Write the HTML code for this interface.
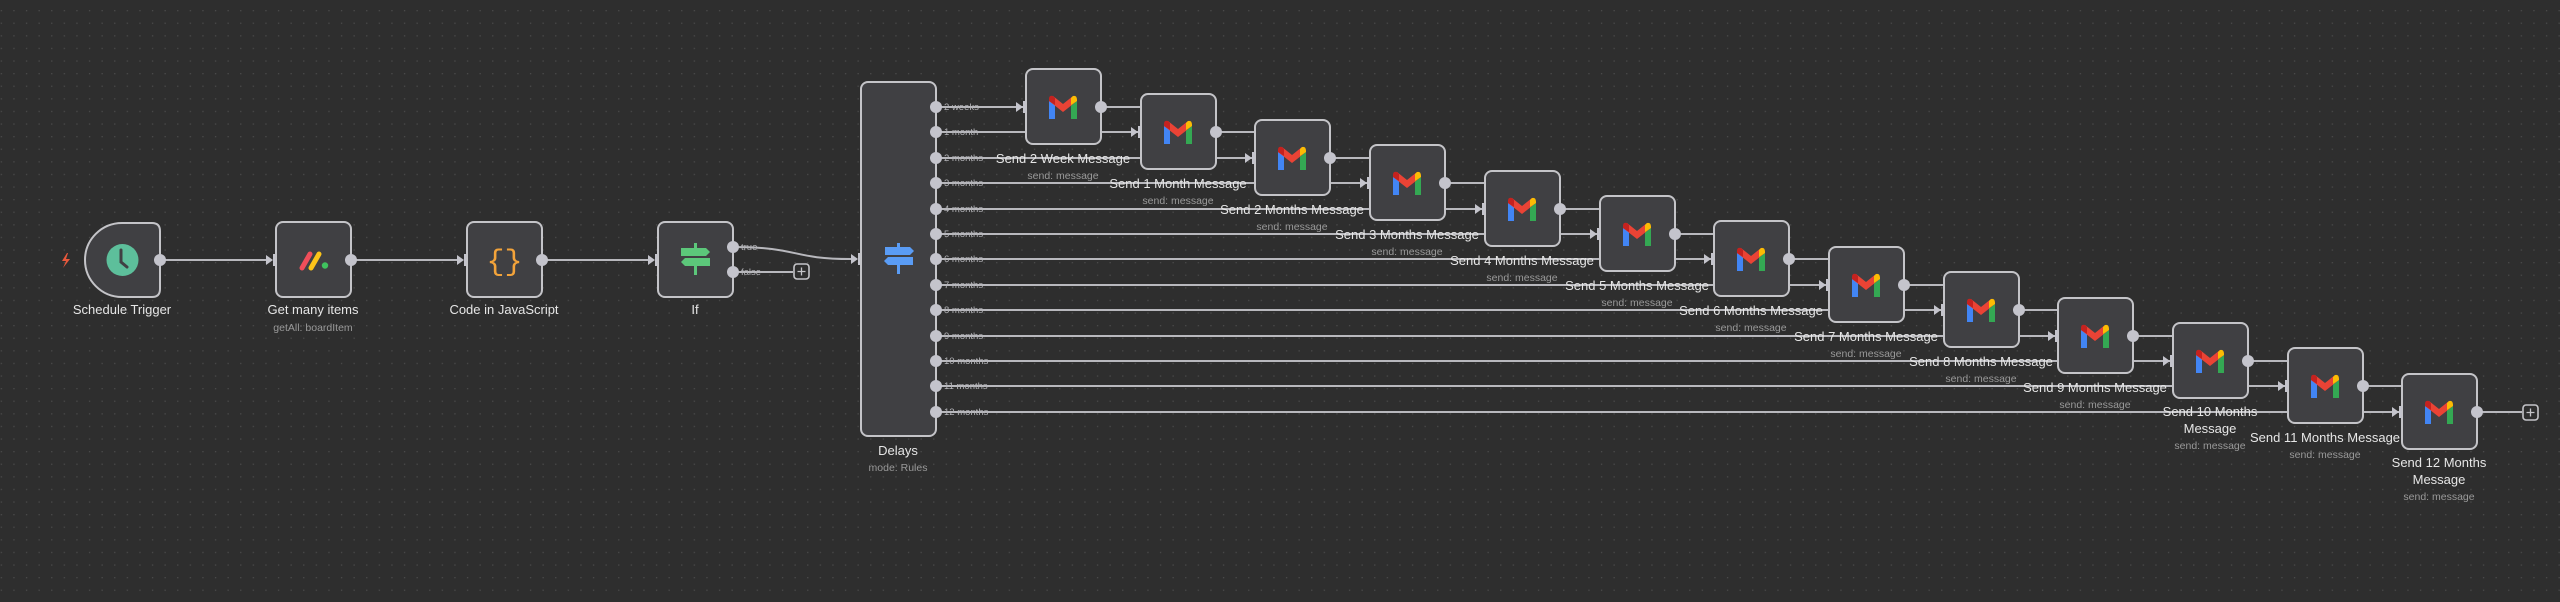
<!DOCTYPE html>
<html><head><meta charset="utf-8"><style>
html,body{margin:0;padding:0;background:#2e2e2e;}
svg{display:block;}
text{font-family:"Liberation Sans",sans-serif;}
.nm{fill:#e6e6e6;font-size:13px;text-anchor:middle;}
.sb{fill:#9a9a9a;font-size:10.5px;text-anchor:middle;}
.ol{fill:#b4b4b8;font-size:9.5px;}
.ln{stroke:#b8b8bd;stroke-width:2;fill:none;}
.nd{fill:#404043;stroke:#c4c4c8;stroke-width:2;}
.dot{fill:#c4c4cc;}
.ar{fill:#c4c4cc;}
</style></head><body>
<svg width="2560" height="602" viewBox="0 0 2560 602" xmlns="http://www.w3.org/2000/svg">
<defs>
<pattern id="grid" x="0.7" y="10" width="12.6" height="12.6" patternUnits="userSpaceOnUse">
<rect x="0" y="0" width="1.3" height="1.3" fill="#4a4a4a"/>
</pattern>
<symbol id="gm" viewBox="0 0 32 26">
<path d="M2 6 L2 24 L8 24 L8 10 Z" fill="#4285f4"/>
<path d="M24 10 L24 24 L30 24 L30 6 Z" fill="#34a853"/>
<path d="M2 6 L16 17 L30 6 L30 4 L26 1 L16 9 L6 1 L2 4 Z" fill="#ea4335"/>
<path d="M24 3 L26 1 Q30 0 30 5 L30 6 L24 10 Z" fill="#fbbc04"/>
<path d="M2 4 Q2 0 6 1 L8 3 L8 10 L2 6 Z" fill="#c5221f"/>
</symbol>
<symbol id="pl" viewBox="0 0 17 17">
<rect x="1" y="1" width="15" height="15" rx="3" fill="#2e2e2e" stroke="#c4c4c8" stroke-width="1.6"/>
<path d="M8.5 4.5 V12.5 M4.5 8.5 H12.5" stroke="#c4c4c8" stroke-width="1.3"/>
</symbol>
</defs>
<rect width="2560" height="602" fill="#2e2e2e"/>
<rect width="2560" height="602" fill="url(#grid)"/>

<!-- main chain lines -->
<path class="ln" d="M160 260 H266"/>
<path class="ln" d="M351 260 H457"/>
<path class="ln" d="M542 260 H648"/>
<path class="ln" d="M733 247 C800 247,790 259,851 259"/>
<path class="ln" d="M733 272 H793"/>
<use href="#pl" x="793" y="263" width="17" height="17"/>
<!-- input arrows -->
<g class="ar">
<path d="M266 255 L273 260 L266 265Z"/><rect x="273" y="254" width="3" height="12"/>
<path d="M457 255 L464 260 L457 265Z"/><rect x="464" y="254" width="3" height="12"/>
<path d="M648 255 L655 260 L648 265Z"/><rect x="655" y="254" width="3" height="12"/>
<path d="M851 254 L858 259 L851 264Z"/><rect x="858" y="253" width="3" height="12"/>
</g>

<!-- delay output lines -->
<g class="ln">
<path d="M936 107 H1141"/><path d="M936 132 H1255"/><path d="M936 158 H1370"/>
<path d="M936 183 H1485"/><path d="M936 209 H1600"/><path d="M936 234 H1714"/>
<path d="M936 259 H1829"/><path d="M936 285 H1944"/><path d="M936 310 H2058"/>
<path d="M936 336 H2173"/><path d="M936 361 H2288"/><path d="M936 386 H2402"/>
<path d="M936 412 H2522"/>
</g>
<use href="#pl" x="2522" y="404" width="17" height="17"/>

<!-- Schedule Trigger -->
<path class="nd" d="M122 223 H152 Q160 223 160 231 V289 Q160 297 152 297 H122 A37 37 0 0 1 85 260 A37 37 0 0 1 122 223 Z"/>
<circle cx="122.5" cy="260" r="16" fill="#5dbf9b"/>
<path d="M121 250 V262 L127 267" stroke="#404043" stroke-width="3" fill="none" stroke-linecap="round"/>
<path d="M67 253 L62 261 L66 261 L63 268 L70 259 L66 259 L68 253Z" fill="#e8583c"/>
<circle class="dot" cx="160" cy="260" r="6"/>
<text class="nm" x="122" y="314">Schedule Trigger</text>

<!-- Get many items -->
<rect class="nd" x="276" y="222" width="75" height="75" rx="7"/>
<path d="M302 268 L310 254" stroke="#f04e5a" stroke-width="5" stroke-linecap="round"/>
<path d="M311 268 L319 254" stroke="#fcc419" stroke-width="5" stroke-linecap="round"/>
<circle cx="325" cy="265.5" r="3.2" fill="#3fc25e"/>
<circle class="dot" cx="351" cy="260" r="6"/>
<text class="nm" x="313" y="314">Get many items</text>
<text class="sb" x="313" y="331">getAll: boardItem</text>

<!-- Code -->
<rect class="nd" x="467" y="222" width="75" height="75" rx="7"/>
<text x="504.5" y="270" fill="#f3a33a" font-size="30" text-anchor="middle" style="font-family:'Liberation Mono',monospace">{}</text>
<circle class="dot" cx="542" cy="260" r="6"/>
<text class="nm" x="504" y="314">Code in JavaScript</text>

<!-- If -->
<rect class="nd" x="658" y="222" width="75" height="75" rx="7"/>
<g fill="#5cc77a">
<rect x="694" y="243" width="3" height="5"/>
<path d="M681 248 H706 L710 252 L706 256 H681Z"/>
<path d="M685 258 H710 V266 H685 L681 262Z"/>
<rect x="694" y="266" width="3" height="9"/>
</g>
<circle class="dot" cx="733" cy="247" r="6"/><circle class="dot" cx="733" cy="272" r="6"/>
<text class="ol" x="741" y="250">true</text><text class="ol" x="741" y="275">false</text>
<text class="nm" x="695" y="314">If</text>

<!-- Delays -->
<rect class="nd" x="861" y="82" width="75" height="354" rx="7"/>
<g fill="#5a9cf5">
<rect x="897" y="243" width="3" height="5"/>
<path d="M885 247 H910 L914 251 L910 255 H885Z"/>
<path d="M888 257 H913 V265 H888 L884 261Z"/>
<rect x="897" y="265" width="3" height="9"/>
</g>
<g class="dot">
<circle cx="936" cy="107" r="6"/><circle cx="936" cy="132" r="6"/><circle cx="936" cy="158" r="6"/>
<circle cx="936" cy="183" r="6"/><circle cx="936" cy="209" r="6"/><circle cx="936" cy="234" r="6"/>
<circle cx="936" cy="259" r="6"/><circle cx="936" cy="285" r="6"/><circle cx="936" cy="310" r="6"/>
<circle cx="936" cy="336" r="6"/><circle cx="936" cy="361" r="6"/><circle cx="936" cy="386" r="6"/>
<circle cx="936" cy="412" r="6"/>
</g>
<g class="ol">
<text x="944" y="110">2 weeks</text><text x="944" y="135">1 month</text><text x="944" y="161">2 months</text>
<text x="944" y="186">3 months</text><text x="944" y="212">4 months</text><text x="944" y="237">5 months</text>
<text x="944" y="262">6 months</text><text x="944" y="288">7 months</text><text x="944" y="313">8 months</text>
<text x="944" y="339">9 months</text><text x="944" y="364">10 months</text><text x="944" y="389">11 months</text>
<text x="944" y="415">12 months</text>
</g>
<text class="nm" x="898" y="455">Delays</text>
<text class="sb" x="898" y="471">mode: Rules</text>

<!-- Gmail nodes -->
<g>
<rect class="nd" x="1026" y="69" width="75" height="75" rx="7"/><use href="#gm" x="1047" y="95" width="32" height="26"/>
<circle class="dot" cx="1101" cy="107" r="6"/><path class="ar" d="M1016 102 L1023 107 L1016 112Z"/><rect class="ar" x="1023" y="101" width="3" height="12"/>
<text class="nm" x="1063" y="163">Send 2 Week Message</text><text class="sb" x="1063" y="179">send: message</text>
</g>
<g>
<rect class="nd" x="1141" y="94" width="75" height="75" rx="7"/><use href="#gm" x="1162" y="120" width="32" height="26"/>
<circle class="dot" cx="1216" cy="132" r="6"/><path class="ar" d="M1131 127 L1138 132 L1131 137Z"/><rect class="ar" x="1138" y="126" width="3" height="12"/>
<text class="nm" x="1178" y="188">Send 1 Month Message</text><text class="sb" x="1178" y="204">send: message</text>
</g>
<g>
<rect class="nd" x="1255" y="120" width="75" height="75" rx="7"/><use href="#gm" x="1276" y="146" width="32" height="26"/>
<circle class="dot" cx="1330" cy="158" r="6"/><path class="ar" d="M1245 153 L1252 158 L1245 163Z"/><rect class="ar" x="1252" y="152" width="3" height="12"/>
<text class="nm" x="1292" y="214">Send 2 Months Message</text><text class="sb" x="1292" y="230">send: message</text>
</g>
<g>
<rect class="nd" x="1370" y="145" width="75" height="75" rx="7"/><use href="#gm" x="1391" y="171" width="32" height="26"/>
<circle class="dot" cx="1445" cy="183" r="6"/><path class="ar" d="M1360 178 L1367 183 L1360 188Z"/><rect class="ar" x="1367" y="177" width="3" height="12"/>
<text class="nm" x="1407" y="239">Send 3 Months Message</text><text class="sb" x="1407" y="255">send: message</text>
</g>
<g>
<rect class="nd" x="1485" y="171" width="75" height="75" rx="7"/><use href="#gm" x="1506" y="197" width="32" height="26"/>
<circle class="dot" cx="1560" cy="209" r="6"/><path class="ar" d="M1475 204 L1482 209 L1475 214Z"/><rect class="ar" x="1482" y="203" width="3" height="12"/>
<text class="nm" x="1522" y="265">Send 4 Months Message</text><text class="sb" x="1522" y="281">send: message</text>
</g>
<g>
<rect class="nd" x="1600" y="196" width="75" height="75" rx="7"/><use href="#gm" x="1621" y="222" width="32" height="26"/>
<circle class="dot" cx="1675" cy="234" r="6"/><path class="ar" d="M1590 229 L1597 234 L1590 239Z"/><rect class="ar" x="1597" y="228" width="3" height="12"/>
<text class="nm" x="1637" y="290">Send 5 Months Message</text><text class="sb" x="1637" y="306">send: message</text>
</g>
<g>
<rect class="nd" x="1714" y="221" width="75" height="75" rx="7"/><use href="#gm" x="1735" y="247" width="32" height="26"/>
<circle class="dot" cx="1789" cy="259" r="6"/><path class="ar" d="M1704 254 L1711 259 L1704 264Z"/><rect class="ar" x="1711" y="253" width="3" height="12"/>
<text class="nm" x="1751" y="315">Send 6 Months Message</text><text class="sb" x="1751" y="331">send: message</text>
</g>
<g>
<rect class="nd" x="1829" y="247" width="75" height="75" rx="7"/><use href="#gm" x="1850" y="273" width="32" height="26"/>
<circle class="dot" cx="1904" cy="285" r="6"/><path class="ar" d="M1819 280 L1826 285 L1819 290Z"/><rect class="ar" x="1826" y="279" width="3" height="12"/>
<text class="nm" x="1866" y="341">Send 7 Months Message</text><text class="sb" x="1866" y="357">send: message</text>
</g>
<g>
<rect class="nd" x="1944" y="272" width="75" height="75" rx="7"/><use href="#gm" x="1965" y="298" width="32" height="26"/>
<circle class="dot" cx="2019" cy="310" r="6"/><path class="ar" d="M1934 305 L1941 310 L1934 315Z"/><rect class="ar" x="1941" y="304" width="3" height="12"/>
<text class="nm" x="1981" y="366">Send 8 Months Message</text><text class="sb" x="1981" y="382">send: message</text>
</g>
<g>
<rect class="nd" x="2058" y="298" width="75" height="75" rx="7"/><use href="#gm" x="2079" y="324" width="32" height="26"/>
<circle class="dot" cx="2133" cy="336" r="6"/><path class="ar" d="M2048 331 L2055 336 L2048 341Z"/><rect class="ar" x="2055" y="330" width="3" height="12"/>
<text class="nm" x="2095" y="392">Send 9 Months Message</text><text class="sb" x="2095" y="408">send: message</text>
</g>
<g>
<rect class="nd" x="2173" y="323" width="75" height="75" rx="7"/><use href="#gm" x="2194" y="349" width="32" height="26"/>
<circle class="dot" cx="2248" cy="361" r="6"/><path class="ar" d="M2163 356 L2170 361 L2163 366Z"/><rect class="ar" x="2170" y="355" width="3" height="12"/>
<text class="nm" x="2210" y="416">Send 10 Months</text><text class="nm" x="2210" y="433">Message</text><text class="sb" x="2210" y="449">send: message</text>
</g>
<g>
<rect class="nd" x="2288" y="348" width="75" height="75" rx="7"/><use href="#gm" x="2309" y="374" width="32" height="26"/>
<circle class="dot" cx="2363" cy="386" r="6"/><path class="ar" d="M2278 381 L2285 386 L2278 391Z"/><rect class="ar" x="2285" y="380" width="3" height="12"/>
<text class="nm" x="2325" y="442">Send 11 Months Message</text><text class="sb" x="2325" y="458">send: message</text>
</g>
<g>
<rect class="nd" x="2402" y="374" width="75" height="75" rx="7"/><use href="#gm" x="2423" y="400" width="32" height="26"/>
<circle class="dot" cx="2477" cy="412" r="6"/><path class="ar" d="M2392 407 L2399 412 L2392 417Z"/><rect class="ar" x="2399" y="406" width="3" height="12"/>
<text class="nm" x="2439" y="467">Send 12 Months</text><text class="nm" x="2439" y="484">Message</text><text class="sb" x="2439" y="500">send: message</text>
</g>
</svg>
</body></html>
